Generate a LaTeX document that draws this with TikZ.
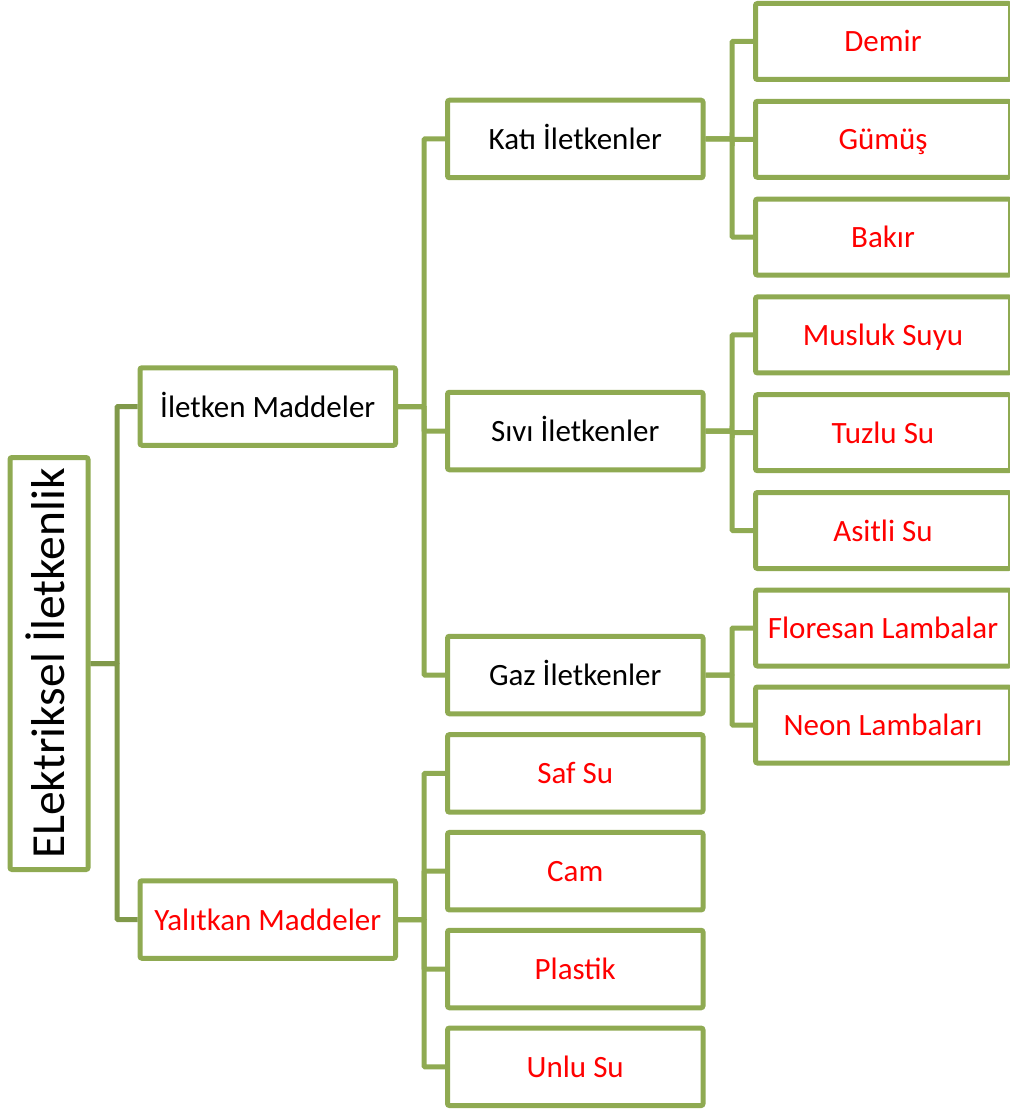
\documentclass[tikz,border=0pt]{standalone}
\usepackage{fontspec}
\setmainfont{Carlito}
\definecolor{yesil}{HTML}{8FAA52}
\definecolor{koyuyesil}{HTML}{80994A}
\begin{document}
\begin{tikzpicture}[x=1pt,y=-1pt,
        kutu/.style={draw=yesil, line width=5pt, rounded corners=2pt, fill=white,
            minimum width=255.5pt, minimum height=77.5pt, inner sep=0pt,
            font=\fontsize{31}{37}\selectfont, text height=21pt, text depth=0pt},
        kirmizi/.style={kutu, text=red},
        hat/.style={draw=yesil, line width=5pt, rounded corners=1pt}]
    \useasboundingbox (0,0) rectangle (1009,1110);

    % ana kutu
    \node[kutu, rotate=90, minimum width=412pt, minimum height=78pt,
        font=\fontsize{47.5}{55}\selectfont, text height=31pt] (kok) at (49,663.5) {ELektriksel İletkenlik};

    % birinci seviye
    \node[kutu] (iletken) at (267.75,406.5) {İletken Maddeler};
    \node[kirmizi] (yalitkan) at (267.75,919.5) {Yalıtkan Maddeler};

    % ikinci seviye
    \node[kutu] (kati) at (575.25,139) {Katı İletkenler};
    \node[kutu] (sivi) at (575.25,431) {Sıvı İletkenler};
    \node[kutu] (gaz) at (575.25,675) {Gaz İletkenler};
    \node[kirmizi] (safsu) at (575.25,773.4) {Saf Su};
    \node[kirmizi] (cam) at (575.25,871.2) {Cam};
    \node[kirmizi] (plastik) at (575.25,969) {Plastik};
    \node[kirmizi] (unlusu) at (575.25,1066.8) {Unlu Su};

    % ucuncu seviye
    \node[kirmizi, minimum width=255pt, minimum height=76pt] (demir) at (883,41.5) {Demir};
    \node[kirmizi, minimum width=255pt, minimum height=76pt] (gumus) at (883,139.3) {Gümüş};
    \node[kirmizi, minimum width=255pt, minimum height=76pt] (bakir) at (883,237.1) {Bakır};
    \node[kirmizi, minimum width=255pt, minimum height=76pt] (musluk) at (883,334.9) {Musluk Suyu};
    \node[kirmizi, minimum width=255pt, minimum height=76pt] (tuzlu) at (883,432.7) {Tuzlu Su};
    \node[kirmizi, minimum width=255pt, minimum height=76pt] (asitli) at (883,530.5) {Asitli Su};
    \node[kirmizi, minimum width=255pt, minimum height=76pt] (floresan) at (883,628) {Floresan Lambalar};
    \node[kirmizi, minimum width=255pt, minimum height=76pt] (neon) at (883,725) {Neon Lambaları};

    % baglantilar
    \foreach \c in {iletken,yalitkan}
        \draw[hat, draw=koyuyesil] (kok.south) -- ++(26.5,0) |- (\c.west);
    \foreach \c in {kati,sivi,gaz}
        \draw[hat] (iletken.east) -- ++(26,0) |- (\c.west);
    \foreach \c in {safsu,cam,plastik,unlusu}
        \draw[hat] (yalitkan.east) -- ++(26,0) |- (\c.west);
    \foreach \c in {demir,gumus,bakir}
        \draw[hat] (kati.east) -- ++(26.5,0) |- (\c.west);
    \foreach \c in {musluk,tuzlu,asitli}
        \draw[hat] (sivi.east) -- ++(26.5,0) |- (\c.west);
    \foreach \c in {floresan,neon}
        \draw[hat] (gaz.east) -- ++(26.5,0) |- (\c.west);
\end{tikzpicture}
\end{document}
